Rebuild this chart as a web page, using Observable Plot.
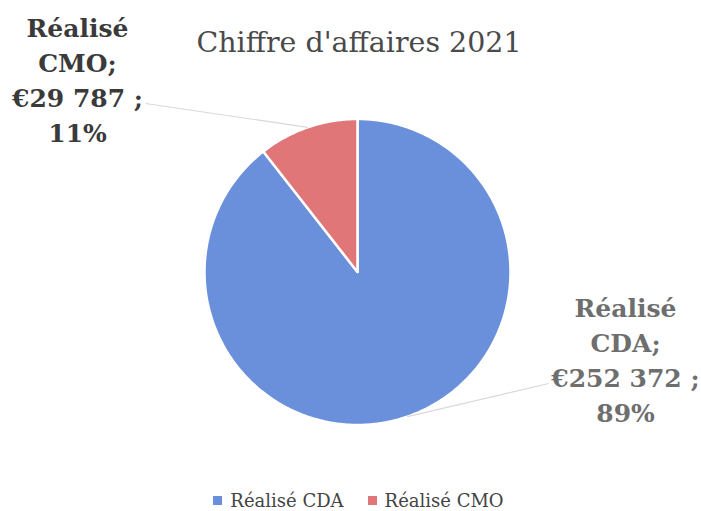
<!DOCTYPE html>
<html><head><meta charset="utf-8">
<script src="https://cdn.jsdelivr.net/npm/d3@7"></script>
<script src="https://cdn.jsdelivr.net/npm/@observablehq/plot@0.6"></script>
<style>
body{margin:0;background:#fff;}
#legend{display:flex;justify-content:center;align-items:center;height:46px;padding-top:25px;padding-left:16px;box-sizing:border-box;color:#444;}
#legend .item{display:flex;align-items:center;margin:0 12px;}
#legend .sw{width:9px;height:9px;margin-right:8px;}
</style>
</head><body><div id="chart"></div><div id="legend"></div>
<script>
const categories = ["Réalisé CDA", "Réalisé CMO"];
const values = [252372, 29787];
const valueLabels = ["€252 372", "€29 787"];
const percentLabels = ["89%", "11%"];
const colors = ["#6a8fdb", "#e07678"];
const title = "Chiffre d'affaires 2021";

// layout (pixels)
const W = 701, H = 465, cx = 357, cy = 271.5, R = 153;
const labelPos = [ {x: 625, y: 357.5, lx: 548, ly: 383, fill: "#6e6e6e"},
                   {x: 77,  y: 77.5,  lx: 145, ly: 103, fill: "#3a3a3a"} ];
const ux = px => (px - cx) / R, uy = py => (cy - py) / R;

const rows = categories.map((c, i) => ({category: c, value: values[i], vl: valueLabels[i], pct: percentLabels[i], color: colors[i]}));
const arcs = d3.pie().sort(null).value(d => d.value)(rows);

const slicePts = [];
arcs.forEach(a => {
  const n = Math.max(2, Math.ceil((a.endAngle - a.startAngle) * 60));
  slicePts.push({cat: a.data.category, x: 0, y: 0});
  for (let k = 0; k <= n; k++) {
    const t = a.startAngle + (a.endAngle - a.startAngle) * k / n;
    slicePts.push({cat: a.data.category, x: Math.sin(t), y: Math.cos(t)});
  }
  slicePts.push({cat: a.data.category, x: 0, y: 0});
});

const labels = arcs.map((a, i) => {
  const mid = (a.startAngle + a.endAngle) / 2;
  const p = labelPos[i];
  return {
    text: `Réalisé\n${a.data.category.replace("Réalisé ", "")};\n${a.data.vl} ;\n${a.data.pct}`,
    x: ux(p.x), y: uy(p.y), fill: p.fill,
    x1: Math.sin(mid), y1: Math.cos(mid), x2: ux(p.lx), y2: uy(p.ly)
  };
});

const chart = Plot.plot({
  width: W, height: H, margin: 0,
  x: {domain: [ux(0), ux(W)], axis: null},
  y: {domain: [uy(H), uy(0)], axis: null},
  style: {background: "#fff"},
  marks: [
    Plot.line(slicePts, {x: "x", y: "y", z: "cat", fill: d => colors[categories.indexOf(d.cat)], stroke: "#fff", strokeWidth: 2.5, strokeLinejoin: "round", curve: "linear"}),
    Plot.link(labels, {x1: "x1", y1: "y1", x2: "x2", y2: "y2", stroke: "#d9d9d9", strokeWidth: 1.2}),
    Plot.text(labels, {x: "x", y: "y", text: "text", fill: d => d.fill, fontSize: 25, fontWeight: "bold", fontFamily: "DejaVu Serif", lineHeight: 1.4, textAnchor: "middle"}),
    Plot.text([title], {x: ux(358.5), y: uy(42), text: d => d, fontSize: 28.5, fill: "#4a4a4a", fontFamily: "DejaVu Serif", textAnchor: "middle"})
  ]
});
document.getElementById("chart").appendChild(chart);

const leg = document.getElementById("legend");
leg.style.fontFamily = "'DejaVu Serif', serif";
leg.style.fontSize = "18px";
categories.forEach((c, i) => {
  const it = document.createElement("div"); it.className = "item";
  const sw = document.createElement("div"); sw.className = "sw"; sw.style.background = colors[i];
  const tx = document.createElement("span"); tx.textContent = c;
  it.appendChild(sw); it.appendChild(tx); leg.appendChild(it);
});
</script>
</body></html>
